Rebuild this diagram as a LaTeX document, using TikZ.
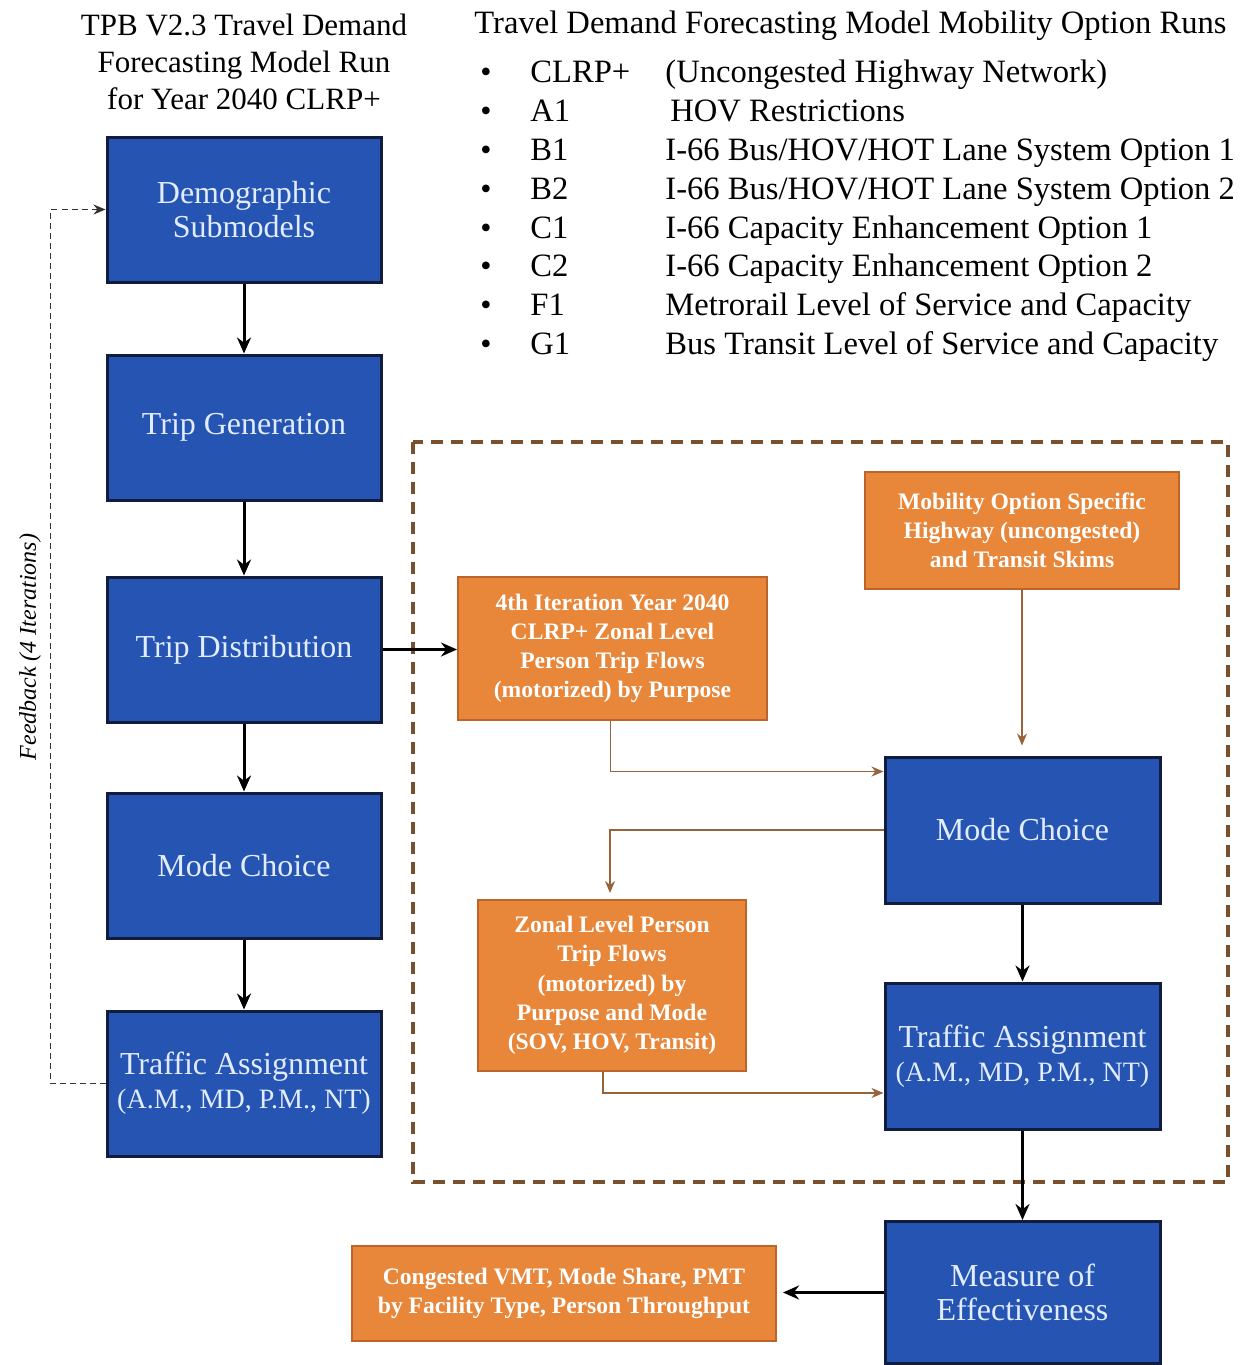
\documentclass[tikz,border=0pt]{standalone}
\usepackage{fontspec}
\setmainfont{Liberation Serif}
\usetikzlibrary{arrows.meta,calc}
\definecolor{boxblue}{RGB}{38,84,178}
\definecolor{boxedge}{RGB}{18,28,60}
\definecolor{bluetext}{RGB}{225,236,255}
\definecolor{boxorange}{RGB}{232,134,58}
\definecolor{orangeedge}{RGB}{190,100,40}
\definecolor{connbrown}{RGB}{150,100,60}
\definecolor{framebrown}{RGB}{120,80,45}
\tikzset{
  bluebox/.style={draw=boxedge, line width=1.5pt, fill=boxblue, text=bluetext, align=center,
    inner sep=0pt, font=\fontsize{16}{17}\selectfont},
  orangebox/.style={draw=orangeedge, line width=1pt, fill=boxorange, text=white, align=center,
    inner sep=0pt, font=\bfseries\fontsize{11.8}{14.6}\selectfont},
  blk/.style={-{Stealth[length=8pt,width=7pt]}, line width=1.5pt, black},
  brn/.style={-{Stealth[length=6pt,width=5pt]}, line width=0.8pt, connbrown},
  listtext/.style={anchor=base west, inner sep=0pt, font=\fontsize{16.3}{18}\selectfont},
  bul/.style={anchor=base, inner sep=0pt, font=\fontsize{16}{18}\selectfont}
}
\newcommand{\tasub}{{\fontsize{14}{17}\selectfont (A.M., MD, P.M., NT)}}
\begin{document}
\begin{tikzpicture}[x=0.5pt,y=-0.5pt]
\useasboundingbox (0,0) rectangle (1244,1365);
\fill[white] (0,0) rectangle (1244,1365);

% titles
\node[align=center, inner sep=0pt, font=\fontsize{15.5}{18.5}\selectfont] (ltitle) at (244,62)
  {TPB V2.3 Travel Demand\\Forecasting Model Run\\for Year 2040 CLRP+};
\node[anchor=base west, inner sep=0pt, font=\fontsize{16.3}{18}\selectfont] (rtitle) at (474,33)
  {Travel Demand Forecasting Model Mobility Option Runs};

% list
\node[bul] (b1) at (486,82) {\textbullet};
\node[listtext] (c1) at (530,82) {CLRP+};
\node[listtext] (d1) at (665,82) {(Uncongested Highway Network)};
\node[bul] (b2) at (486,121) {\textbullet};
\node[listtext] (c2) at (530,121) {A1};
\node[listtext] (d2) at (670,121) {HOV Restrictions};
\node[bul] (b3) at (486,160) {\textbullet};
\node[listtext] (c3) at (530,160) {B1};
\node[listtext] (d3) at (665,160) {I-66 Bus/HOV/HOT Lane System Option 1};
\node[bul] (b4) at (486,199) {\textbullet};
\node[listtext] (c4) at (530,199) {B2};
\node[listtext] (d4) at (665,199) {I-66 Bus/HOV/HOT Lane System Option 2};
\node[bul] (b5) at (486,238) {\textbullet};
\node[listtext] (c5) at (530,238) {C1};
\node[listtext] (d5) at (665,238) {I-66 Capacity Enhancement Option 1};
\node[bul] (b6) at (486,276) {\textbullet};
\node[listtext] (c6) at (530,276) {C2};
\node[listtext] (d6) at (665,276) {I-66 Capacity Enhancement Option 2};
\node[bul] (b7) at (486,315) {\textbullet};
\node[listtext] (c7) at (530,315) {F1};
\node[listtext] (d7) at (665,315) {Metrorail Level of Service and Capacity};
\node[bul] (b8) at (486,354) {\textbullet};
\node[listtext] (c8) at (530,354) {G1};
\node[listtext] (d8) at (665,354) {Bus Transit Level of Service and Capacity};

% container
\draw[framebrown, line width=2pt, dash pattern=on 6pt off 4pt] (413,442) rectangle (1228,1182);

% left column
\node[bluebox, minimum width=137pt, minimum height=72.5pt] (dem) at (244,209.5) {Demographic\\Submodels};
\node[bluebox, minimum width=137pt, minimum height=72.5pt] (tgen) at (244,427.5) {Trip Generation};
\node[bluebox, minimum width=137pt, minimum height=72.5pt] (tdist) at (244,649.5) {Trip Distribution};
\node[bluebox, minimum width=137pt, minimum height=72.5pt] (mode) at (244,865.5) {Mode Choice};
\node[bluebox, minimum width=137pt, minimum height=72.5pt] (tassign) at (244,1083.5) {Traffic Assignment\\\tasub};

% right column
\node[bluebox, minimum width=137.5pt, minimum height=73pt] (mc2) at (1022.5,830) {Mode Choice};
\node[bluebox, minimum width=137.5pt, minimum height=73pt] (ta2) at (1022.5,1056) {Traffic Assignment\\\tasub};
\node[bluebox, minimum width=137.5pt, minimum height=71pt] (moe) at (1022.5,1292.5) {Measure of\\Effectiveness};

% orange boxes
\node[orangebox, minimum width=154.5pt, minimum height=71.5pt] (it4) at (612.5,648.5)
  {4th Iteration Year 2040\\CLRP+ Zonal Level\\Person Trip Flows\\(motorized) by Purpose};
\node[orangebox, minimum width=157pt, minimum height=58.5pt] (mob) at (1022,530.5)
  {Mobility Option Specific\\Highway (uncongested)\\and Transit Skims};
\node[orangebox, minimum width=134pt, minimum height=85.5pt] (zon) at (612,985.5)
  {Zonal Level Person\\Trip Flows\\(motorized) by\\Purpose and Mode\\(SOV, HOV, Transit)};
\node[orangebox, minimum width=212pt, minimum height=47.5pt] (cong) at (564,1293.5)
  {Congested VMT, Mode Share, PMT\\by Facility Type, Person Throughput};

% black connectors
\draw[blk] (dem) -- (tgen);
\draw[blk] (tgen) -- (tdist);
\draw[blk] (tdist) -- (mode);
\draw[blk] (mode) -- (tassign);
\draw[blk] (tdist.east) -- (tdist.east -| it4.west);
\draw[blk] (mc2) -- (ta2);
\draw[blk] (ta2) -- (moe);
\draw[blk, shorten >=3pt] (moe.west) -- (moe.west -| cong.east);

% brown connectors
\draw[brn] ([xshift=-1pt]it4.south) |- ([yshift=-8pt]mc2.north west);
\draw[brn, shorten >=5pt] (mob.south) -- (mob.south |- mc2.north);
\draw[brn, shorten >=3pt] (mc2.west) -| ([xshift=-1pt]zon.north);
\draw[brn] ([xshift=-4.5pt]zon.south) |- ([yshift=-18.5pt]ta2.west);

% feedback
\draw[-{Stealth[length=6pt,width=5pt]}, line width=0.8pt, black!80, dash pattern=on 3pt off 2pt]
  (tassign.west) -- ++(-55,0) |- (dem.west);
\node[rotate=90, inner sep=0pt, font=\itshape\fontsize{12}{14}\selectfont] (fb) at (30,647) {Feedback (4 Iterations)};
\end{tikzpicture}
\end{document}
